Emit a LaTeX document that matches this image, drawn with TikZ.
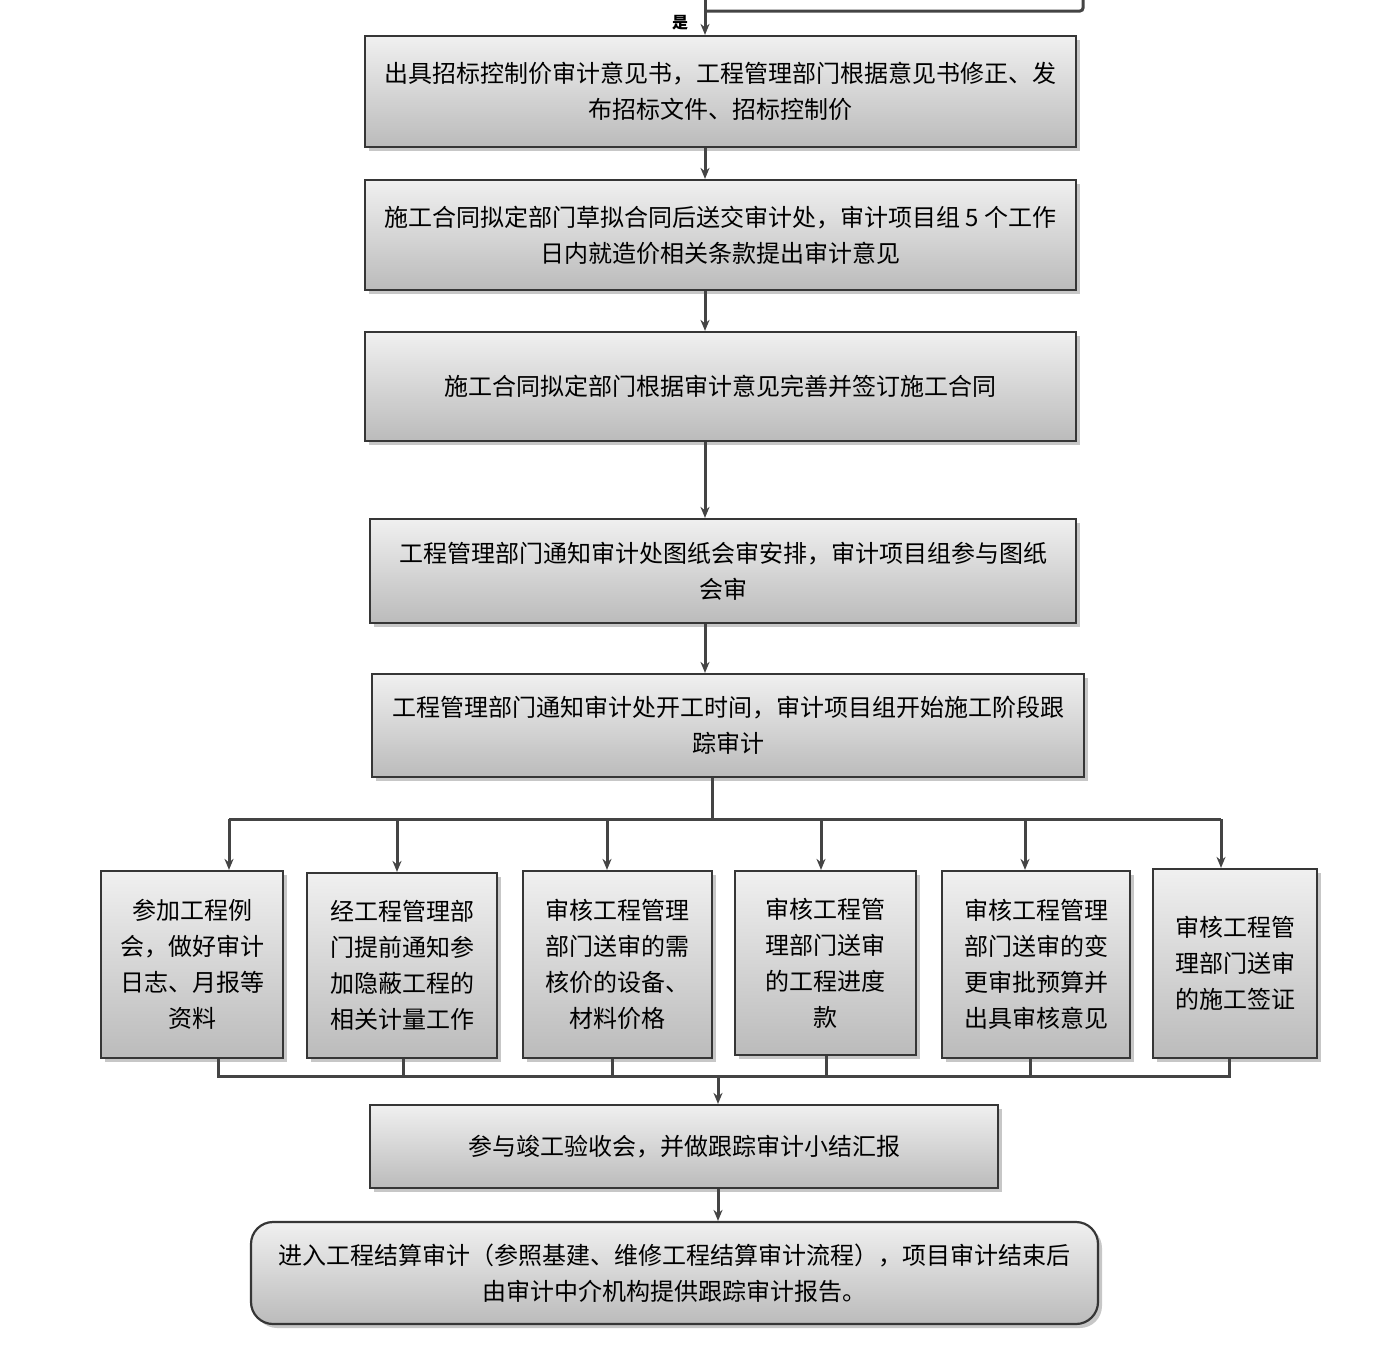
\documentclass[tikz,border=0pt]{standalone}
\usepackage{fontspec}
\newfontfamily\cjk{Noto Sans CJK SC}
\usetikzlibrary{arrows.meta}
\usetikzlibrary{shadows}
\usetikzlibrary{calc}
\definecolor{linegray}{HTML}{444444}
\definecolor{boxtop}{HTML}{F0F0F0}
\definecolor{boxbot}{HTML}{BBBBBB}
\tikzset{
  box/.style={draw=linegray!80!black,line width=2.2pt,top color=boxtop,bottom color=boxbot,
    drop shadow={shadow xshift=4pt,shadow yshift=-4pt,fill=gray!55,opacity=.8},
    font=\cjk\fontsize{24}{36}\selectfont,align=center,inner sep=0pt},
  link/.style={draw=linegray,line width=3pt},
  flow/.style={link,-{Stealth[length=11pt,width=9pt]}}
}

\begin{document}
\begin{tikzpicture}[x=1pt,y=-1pt]
                    \useasboundingbox (0,0) rectangle (1386,1352);
                    \node[box,minimum width=711,minimum height=111,name=audit] at (720.5,91.5) {出具招标控制价审计意见书，工程管理部门根据意见书修正、发\\布招标文件、招标控制价};
                    \node[box,minimum width=711,minimum height=110,name=draft] at (720.5,235) {施工合同拟定部门草拟合同后送交审计处，审计项目组 5 个工作\\日内就造价相关条款提出审计意见};
                    \node[box,minimum width=711,minimum height=109,name=sign] at (720.5,386.5) {施工合同拟定部门根据审计意见完善并签订施工合同};
                    \node[box,minimum width=706,minimum height=104,name=drawing] at (723,571) {工程管理部门通知审计处图纸会审安排，审计项目组参与图纸\\会审};
                    \node[box,minimum width=712,minimum height=103,name=start] at (728,725.5) {工程管理部门通知审计处开工时间，审计项目组开始施工阶段跟\\踪审计};
                    \node[box,minimum width=182,minimum height=187,name=t1] at (192,964.5) {参加工程例\\会，做好审计\\日志、月报等\\资料};
                    \node[box,minimum width=190,minimum height=185,name=t2] at (402,965.5) {经工程管理部\\门提前通知参\\加隐蔽工程的\\相关计量工作};
                    \node[box,minimum width=189,minimum height=187,name=t3] at (617.5,964.5) {审核工程管理\\部门送审的需\\核价的设备、\\材料价格};
                    \node[box,minimum width=181,minimum height=184,name=t4] at (825.5,963) {审核工程管\\理部门送审\\的工程进度\\款};
                    \node[box,minimum width=188,minimum height=187,name=t5] at (1036,964.5) {审核工程管理\\部门送审的变\\更审批预算并\\出具审核意见};
                    \node[box,minimum width=164,minimum height=189,name=t6] at (1235,963.5) {审核工程管\\理部门送审\\的施工签证};
                    \node[box,minimum width=628,minimum height=83,name=accept] at (684,1146.5) {参与竣工验收会，并做跟踪审计小结汇报};
                    \node[box,rounded corners=22pt,minimum width=847,minimum height=102,name=settle] at (674.5,1273) {进入工程结算审计（参照基建、维修工程结算审计流程），项目审计结束后\\由审计中介机构提供跟踪审计报告。};
                    % return line from above
                    \coordinate (up) at (705,0);
                    \coordinate (back) at (1083,0);
                    \coordinate (j) at (705,11);
                    \draw[link,rounded corners=3pt] (back) |- (j);
                    \draw[flow] (up) -- (up |- audit.north);
                    \node[font=\cjk\bfseries\fontsize{16}{16}\selectfont,name=yes] at (680,23) {是};
                    \coordinate (m) at (705,0);
                    \draw[flow] (m |- audit.south) -- (m |- draft.north);
                    \draw[flow] (m |- draft.south) -- (m |- sign.north);
                    \draw[flow] (m |- sign.south) -- (m |- drawing.north);
                    \draw[flow] (m |- drawing.south) -- (m |- start.north);
                    % split
                    \coordinate (sp) at (712,819);
                    \coordinate (s1) at (229,819);
                    \coordinate (s2) at (397,819);
                    \coordinate (s3) at (607,819);
                    \coordinate (s4) at (821,819);
                    \coordinate (s5) at (1025,819);
                    \coordinate (s6) at (1221,819);
                    \draw[link] (sp |- start.south) -- (sp);
                    \draw[link] (s1) -- (s6);
                    \draw[flow] (s1) -- (s1 |- t1.north);
                    \draw[flow] (s2) -- (s2 |- t2.north);
                    \draw[flow] (s3) -- (s3 |- t3.north);
                    \draw[flow] (s4) -- (s4 |- t4.north);
                    \draw[flow] (s5) -- (s5 |- t5.north);
                    \draw[flow] (s6) -- (s6 |- t6.north);
                    % merge
                    \coordinate (g1) at (218,1076);
                    \coordinate (g2) at (403,1076);
                    \coordinate (g3) at (612,1076);
                    \coordinate (g4) at (826,1076);
                    \coordinate (g5) at (1030,1076);
                    \coordinate (g6) at (1229,1076);
                    \coordinate (gm) at (718,1076);
                    \draw[link] (g1 |- t1.south) -- (g1) -- (g6) -- (g6 |- t6.south);
                    \draw[link] (g2 |- t2.south) -- (g2);
                    \draw[link] (g3 |- t3.south) -- (g3);
                    \draw[link] (g4 |- t4.south) -- (g4);
                    \draw[link] (g5 |- t5.south) -- (g5);
                    \draw[flow] (gm) -- (gm |- accept.north);
                    \draw[flow] (gm |- accept.south) -- (gm |- settle.north);
                \end{tikzpicture}
\end{document}
